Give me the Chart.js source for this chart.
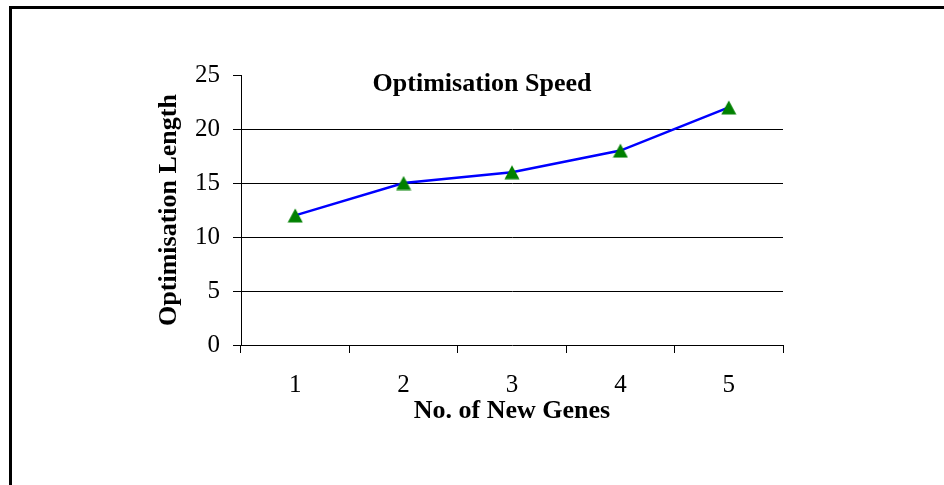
<!DOCTYPE html>
<html>
<head>
<meta charset="utf-8">
<script src="https://cdn.jsdelivr.net/npm/chart.js@4/dist/chart.umd.min.js"></script>
<style>
  html, body { margin: 0; padding: 0; background: #fff; }
  #wrap { position: relative; width: 944px; height: 485px; }
  #frame { position: absolute; left: 9px; top: 6px; right: 0; bottom: 0;
           border-left: 3px solid #000; border-top: 3px solid #000; }
  canvas { position: absolute; left: 0; top: 0; }
</style>
</head>
<body>
<div id="wrap">
  <div id="frame"></div>
  <canvas id="speed_chart" width="944" height="485"></canvas>
</div>
<script>
const genes = ['1', '2', '3', '4', '5'];
const optLength = [12, 15, 16, 18, 22];
const yTicks = [0, 5, 10, 15, 20, 25];

const serif = "'Liberation Serif', 'Times New Roman', serif";

// green triangle marker, centred on its box like the original
function makeTriangle()
{
    const c = document.createElement('canvas');
    c.width = 16;
    c.height = 15;
    const g = c.getContext('2d');
    g.fillStyle = 'rgb(0, 128, 0)';
    g.beginPath();
    g.moveTo(8, 0.5);
    g.lineTo(15.5, 14.5);
    g.lineTo(0.5, 14.5);
    g.closePath();
    g.fill();
    return c;
}

// title sits inside the plot area, like the original
const innerTitle = {
    id: 'innerTitle',
    afterDraw(chart) {
        const ctx = chart.ctx;
        const area = chart.chartArea;
        ctx.save();
        ctx.font = "bold 26px " + serif;
        ctx.fillStyle = '#000';
        ctx.textAlign = 'center';
        ctx.textBaseline = 'middle';
        ctx.fillText('Optimisation Speed', area.left + 241, area.top + 9);
        ctx.restore();
    }
};

function prepareChart()
{
    const data = {
        labels: genes,
        datasets: [{
            label: 'Optimisation Length',
            data: optLength,
            borderColor: 'rgb(0, 0, 255)',
            borderWidth: 2.5,
            pointStyle: makeTriangle(),
            pointRadius: 8,
            tension: 0
        }]
    };

    const config = {
        type: 'line',
        data: data,
        options: {
            responsive: false,
            animation: false,
            layout: { padding: { left: 150, top: 75, right: 161, bottom: 58 } },
            plugins: {
                legend: { display: false },
                tooltip: { enabled: false }
            },
            scales: {
                x: {
                    offset: true,
                    afterFit(scale) { scale.height = 82; },
                    grid: {
                        offset: true,
                        drawOnChartArea: false,
                        tickLength: 8,
                        tickColor: '#000'
                    },
                    border: { color: '#000', width: 1 },
                    ticks: {
                        color: '#000',
                        padding: 17,
                        font: { family: serif, size: 25 }
                    },
                    title: {
                        display: true,
                        text: 'No. of New Genes',
                        color: '#000',
                        padding: 0,
                        font: { family: serif, size: 26, weight: 'bold' }
                    }
                },
                y: {
                    min: 0,
                    max: 25,
                    afterFit(scale) { scale.width = 91; },
                    afterBuildTicks(scale) {
                        scale.ticks = yTicks.map(v => ({ value: v }));
                    },
                    grid: {
                        color: c => (c.tick && (c.tick.value === 25 || c.tick.value === 0)) ? 'rgba(0,0,0,0)' : '#000',
                        tickColor: '#000',
                        tickLength: 8
                    },
                    border: { color: '#000', width: 1 },
                    ticks: {
                        color: '#000',
                        padding: 13,
                        font: { family: serif, size: 25 }
                    },
                    title: {
                        display: true,
                        text: 'Optimisation Length',
                        color: '#000',
                        padding: { top: 4, bottom: 0 },
                        font: { family: serif, size: 26, weight: 'bold' }
                    }
                }
            }
        },
        plugins: [innerTitle]
    };

    new Chart(document.getElementById('speed_chart'), config);
}

window.addEventListener('load', prepareChart);
</script>
</body>
</html>
